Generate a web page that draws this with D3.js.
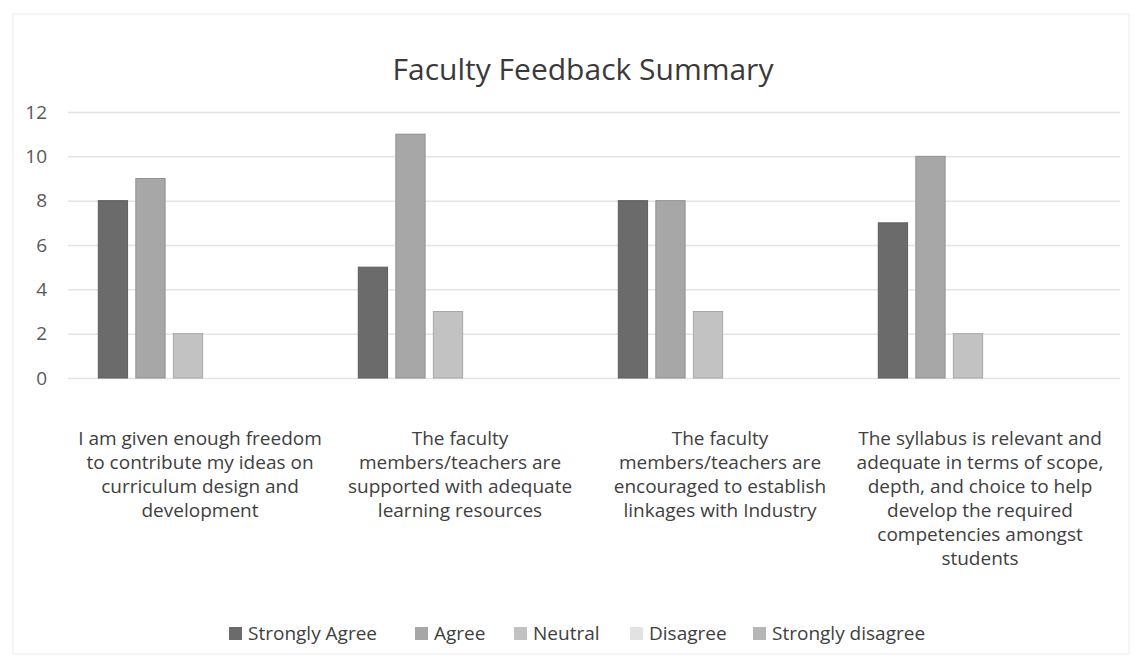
<!DOCTYPE html>
<meta charset="utf-8">
<style>
    body { margin: 0; background: #fff; }
    text { font-family: "Open Sans", "Noto Sans", sans-serif; }
    .axis--y path, .axis--y line { display: none; }
    .axis--y text { fill: #595959; font-size: 19px; }
    .grid line { stroke: #e4e4e4; stroke-width: 1.5; }
    .grid path { display: none; }
</style>
<svg width="1141" height="665"></svg>
<script src="https://d3js.org/d3.v7.min.js"></script>
<script>

    var categories = [
        ["I am given enough freedom", "to contribute my ideas on", "curriculum design and", "development"],
        ["The faculty", "members/teachers are", "supported with adequate", "learning resources"],
        ["The faculty", "members/teachers are", "encouraged to establish", "linkages with Industry"],
        ["The syllabus is relevant and", "adequate in terms of scope,", "depth, and choice to help", "develop the required", "competencies amongst", "students"]
    ];
    var seriesNames = ["Strongly Agree", "Agree", "Neutral", "Disagree", "Strongly disagree"];
    var stronglyAgree = [8, 5, 8, 7];
    var agree = [9, 11, 8, 10];
    var neutral = [2, 3, 3, 2];
    var disagree = [0, 0, 0, 0];
    var stronglyDisagree = [0, 0, 0, 0];
    var yTicks = [0, 2, 4, 6, 8, 10, 12];
    var colors = ["#6b6b6b", "#a7a7a7", "#c2c2c2", "#e2e2e2", "#b6b6b6"];

    var values = [stronglyAgree, agree, neutral, disagree, stronglyDisagree];

    var svg = d3.select("svg"),
        margin = {top: 112, right: 43, bottom: 287, left: 58},
        width = +svg.attr("width") - margin.left - margin.right,
        height = +svg.attr("height") - margin.top - margin.bottom,
        gridWidth = 1120 - margin.left;

    // faint frame of the scanned chart
    svg.append("rect")
        .attr("x", 13).attr("y", 14)
        .attr("width", 1116).attr("height", 640)
        .attr("fill", "none")
        .attr("stroke", "#ececec");

    svg.append("text")
        .attr("x", 583)
        .attr("y", 80)
        .attr("text-anchor", "middle")
        .attr("fill", "#3a3a3a")
        .style("font-size", "30px")
        .text("Faculty Feedback Summary");

    var x0 = d3.scaleBand().domain(d3.range(categories.length)).range([0, width]);
    var x1 = d3.scaleBand().domain(d3.range(seriesNames.length)).range([0, x0.bandwidth() * 0.69]).paddingInner(0.22);
    var y = d3.scaleLinear().domain([0, 12]).range([height, 0]);

    var g = svg.append("g")
        .attr("transform", "translate(" + margin.left + "," + margin.top + ")");

    g.append("g")
        .attr("class", "grid")
        .attr("transform", "translate(10,0)")
        .call(d3.axisLeft(y).tickValues(yTicks).tickSize(-(gridWidth - 10)).tickFormat(""));

    g.append("g")
        .attr("class", "axis axis--y")
        .attr("transform", "translate(-8,0)")
        .call(d3.axisLeft(y).tickValues(yTicks).tickSize(0));

    var groupOffset = (x0.bandwidth() - x1.range()[1]) / 2;

    var cat = g.selectAll(".cat")
        .data(categories)
        .enter().append("g")
        .attr("class", "cat")
        .attr("transform", function(d, i) { return "translate(" + (x0(i) + groupOffset) + ",0)"; });

    cat.selectAll("rect")
        .data(function(d, i) { return values.map(function(s, j) { return {s: j, v: s[i]}; }); })
        .enter().append("rect")
        .filter(function(d) { return d.v > 0; })
        .attr("x", function(d) { return x1(d.s); })
        .attr("y", function(d) { return y(d.v); })
        .attr("width", x1.bandwidth())
        .attr("height", function(d) { return height - y(d.v); })
        .attr("fill", function(d) { return colors[d.s]; })
        .attr("stroke", function(d) { return d3.color(colors[d.s]).darker(0.4); })
        .attr("stroke-width", 1);

    // category labels, wrapped as in the original
    var labels = g.selectAll(".cat-label")
        .data(categories)
        .enter().append("text")
        .attr("class", "cat-label")
        .attr("text-anchor", "middle")
        .attr("fill", "#404040")
        .style("font-size", "19px")
        .attr("transform", function(d, i) { return "translate(" + (x0(i) + x0.bandwidth() / 2 + 12) + "," + (height + 67) + ")"; });

    labels.selectAll("tspan")
        .data(function(d) { return d; })
        .enter().append("tspan")
        .attr("x", 0)
        .attr("dy", function(d, i) { return i === 0 ? 0 : 24; })
        .text(function(d) { return d; });

    // legend
    var legendX = [229, 415, 514, 630, 753];
    var legend = svg.append("g").selectAll("g")
        .data(seriesNames)
        .enter().append("g")
        .attr("transform", function(d, i) { return "translate(" + legendX[i] + ",627)"; });

    legend.append("rect")
        .attr("width", 13).attr("height", 13)
        .attr("fill", function(d, i) { return colors[i]; });

    legend.append("text")
        .attr("x", 19)
        .attr("y", 13)
        .attr("fill", "#404040")
        .style("font-size", "19px")
        .text(function(d) { return d; });
</script>
